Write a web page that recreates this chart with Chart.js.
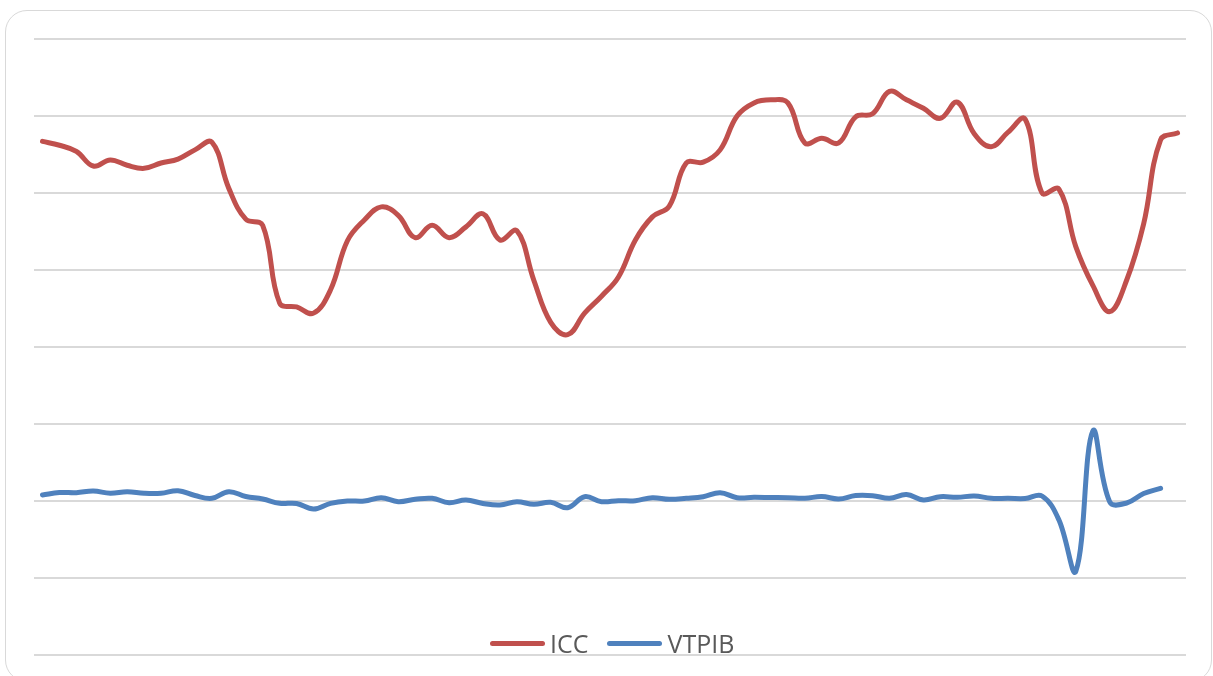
<!DOCTYPE html>
<html>
<head>
<meta charset="utf-8">
<script src="https://cdn.jsdelivr.net/npm/chart.js@4/dist/chart.umd.min.js"></script>
<style>
  html, body { margin: 0; padding: 0; background: #fff; overflow: hidden; }
  #wrap { position: relative; width: 1213px; height: 676px; }
  #card { position: absolute; left: 5px; top: 10px; width: 1207px; height: 672px; box-sizing: border-box;
          border: 1.5px solid #d9d9d9; border-radius: 22px; }
  #chart { position: absolute; left: 0; top: 0; }
  #legend { position: absolute; left: 490px; top: 630px; height: 26px; display: flex; align-items: center;
            font-family: "Open Sans", sans-serif; font-size: 25px; line-height: 26px; color: #595959; }
  #legend .item { display: flex; align-items: center; margin-right: 19px; }
  #legend .mark { width: 55px; height: 5px; border-radius: 3px; margin-right: 5px; }
</style>
</head>
<body>
<div id="wrap">
  <div id="card"></div>
  <canvas id="chart" width="1213" height="676"></canvas>
  <div id="legend"></div>
</div>
<script>
const periods = ["1","2","3","4","5","6","7","8","9","10","11","12","13","14","15","16","17","18","19","20",
  "21","22","23","24","25","26","27","28","29","30","31","32","33","34","35","36","37","38","39","40",
  "41","42","43","44","45","46","47","48","49","50","51","52","53","54","55","56","57","58","59","60",
  "61","62","63","64","65","66","67","68"];

const icc = [46.7, 46.2, 45.4, 43.5, 44.3, 43.6, 43.2, 43.9, 44.4, 45.6,
  46.6, 40.6, 36.6, 35.8, 25.7, 25.2, 24.4, 27.4, 33.8, 36.5,
  38.2, 37.1, 34.2, 35.8, 34.2, 35.6, 37.3, 33.9, 35.1, 28.7,
  23.2, 21.6, 24.4, 26.6, 29.1, 33.9, 36.9, 38.3, 43.9, 44.0,
  45.6, 50.0, 51.7, 52.1, 51.7, 46.5, 47.1, 46.5, 49.9, 50.3,
  53.2, 52.1, 51.0, 49.7, 51.8, 47.7, 46.0, 47.9, 49.6, 40.0,
  40.5, 33.0, 28.0, 24.6, 28.7, 36.0, 46.9, 47.8];

const vtpib = [0.78, 1.10, 1.08, 1.30, 1.00, 1.21, 1.00, 1.00, 1.34, 0.71,
  0.35, 1.21, 0.58, 0.26, -0.30, -0.32, -1.04, -0.30, 0.00, 0.00,
  0.43, -0.09, 0.22, 0.35, -0.22, 0.13, -0.32, -0.52, -0.09, -0.43,
  -0.17, -0.87, 0.56, -0.09, 0.04, 0.04, 0.43, 0.22, 0.35, 0.56,
  1.08, 0.43, 0.48, 0.45, 0.42, 0.35, 0.58, 0.26, 0.71, 0.69,
  0.35, 0.84, 0.13, 0.56, 0.48, 0.65, 0.35, 0.35, 0.32, 0.65,
  -2.47, -9.09, 9.09, -0.13, -0.26, 0.97, 1.65, null];

const ctx = document.getElementById("chart");

const config = {
  type: 'line',
  data: {
    labels: periods,
    datasets: [
      { label: "ICC", data: icc, borderColor: "#C0504D", backgroundColor: "#C0504D" },
      { label: "VTPIB", data: vtpib, borderColor: "#4F81BD", backgroundColor: "#4F81BD" }
    ]
  },
  options: {
    responsive: false,
    animation: false,
    layout: { padding: { left: 34, right: 27, top: 39, bottom: 21 } },
    elements: {
      line: { borderWidth: 5, tension: 0.4, borderCapStyle: 'round', borderJoinStyle: 'round' },
      point: { radius: 0, hoverRadius: 0 }
    },
    plugins: { legend: { display: false }, tooltip: { enabled: false } },
    scales: {
      x: { display: false, offset: true },
      y: {
        min: -20, max: 60,
        ticks: { display: false, stepSize: 10 },
        border: { display: false },
        grid: { color: "#d9d9d9", lineWidth: 2, drawTicks: false }
      }
    }
  }
};

const chart = new Chart(ctx, config);

// legend built from the datasets, placed inside the plot like the original
const legendRef = document.getElementById("legend");
chart.data.datasets.forEach((ds) => {
  const item = document.createElement("div");
  item.className = "item";
  const mark = document.createElement("span");
  mark.className = "mark";
  mark.style.background = ds.borderColor;
  const text = document.createElement("span");
  text.textContent = ds.label;
  item.appendChild(mark);
  item.appendChild(text);
  legendRef.appendChild(item);
});
</script>
</body>
</html>
